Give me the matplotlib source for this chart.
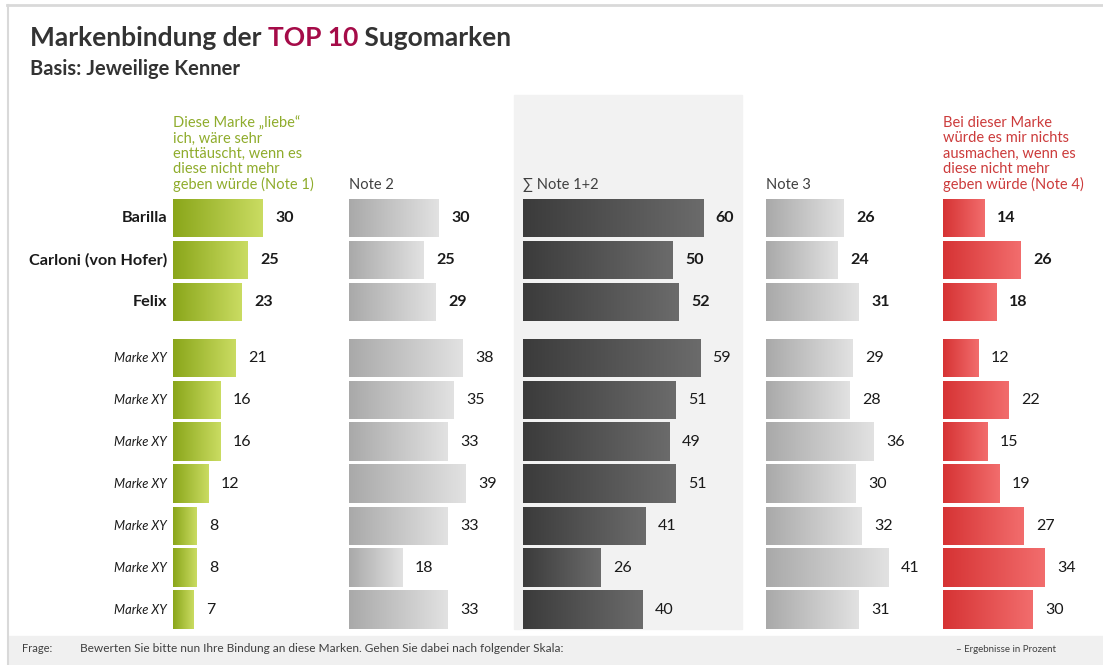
import numpy as np
import matplotlib
matplotlib.use('Agg')
import matplotlib.pyplot as plt
from matplotlib.colors import LinearSegmentedColormap
from matplotlib.patches import Rectangle

plt.rcParams['font.family'] = ['Lato', 'DejaVu Sans']

brands = ['Barilla', 'Carloni (von Hofer)', 'Felix', 'Marke XY', 'Marke XY',
          'Marke XY', 'Marke XY', 'Marke XY', 'Marke XY', 'Marke XY']
note1 = [30, 25, 23, 21, 16, 16, 12, 8, 8, 7]
note2 = [30, 25, 29, 38, 35, 33, 39, 33, 18, 33]
note12 = [60, 50, 52, 59, 51, 49, 51, 41, 26, 40]
note3 = [26, 24, 31, 29, 28, 36, 30, 32, 41, 31]
note4 = [14, 26, 18, 12, 22, 15, 19, 27, 34, 30]

headers = ['Diese Marke \u201eliebe\u201c\nich, w\u00e4re sehr\nentt\u00e4uscht, wenn es\ndiese nicht mehr\ngeben w\u00fcrde (Note 1)',
           'Note 2', '\u2211 Note 1+2', 'Note 3',
           'Bei dieser Marke\nw\u00fcrde es mir nichts\nausmachen, wenn es\ndiese nicht mehr\ngeben w\u00fcrde (Note 4)']

W, H = 1103, 665
fig = plt.figure(figsize=(W / 100, H / 100), dpi=100)
fig.patch.set_facecolor('white')

# slide border, footer band, highlight panel (pixel -> figure coords)
def px(x, y):
    return x / W, 1 - y / H

fig.add_artist(plt.Line2D([7 / W, 1], [1 - 4.5 / H] * 2, color='#d9d9d9', lw=2))
fig.add_artist(plt.Line2D([7.5 / W] * 2, [0, 1 - 4.5 / H], color='#d9d9d9', lw=1.5))
fig.add_artist(Rectangle(px(8, 665), (W - 8) / W, 29 / H, color='#f0f0f0', zorder=0))
fig.add_artist(Rectangle(px(514, 629), 228 / W, 534 / H, color='#f2f2f2', zorder=0))

title_y = 1 - 38 / H
t = fig.text(30 / W, title_y, 'Markenbindung der ', fontsize=19, fontweight='bold',
             color='#333333', va='center')
fig.canvas.draw()
bb = t.get_window_extent()
t2 = fig.text(bb.x1 / W, title_y, 'TOP 10', fontsize=19, fontweight='bold',
              color='#a50b48', va='center')
bb2 = t2.get_window_extent(fig.canvas.get_renderer())
fig.text(bb2.x1 / W, title_y, ' Sugomarken', fontsize=19, fontweight='bold',
         color='#333333', va='center')
fig.text(30 / W, 1 - 69 / H, 'Basis: Jeweilige Kenner', fontsize=14.5, fontweight='bold',
         color='#333333', va='center')

fig.text(22 / W, 1 - 649 / H, 'Frage:', fontsize=8, color='#404040', va='center')
fig.text(80 / W, 1 - 649 / H,
         'Bewerten Sie bitte nun Ihre Bindung an diese Marken. Gehen Sie dabei nach folgender Skala:',
         fontsize=8.6, color='#404040', va='center')
fig.text(1056 / W, 1 - 649 / H, '\u2013 Ergebnisse in Prozent', fontsize=7,
         color='#404040', va='center', ha='right')

# row positions: gap after the top 3 brands
gap = 14 / 42
ypos = [i + (gap if i >= 3 else 0) for i in range(len(brands))]
y_top, y_bot = 197, 631
ax_bottom = 1 - y_bot / H
ax_height = (y_bot - y_top) / H
units = 100
scale = 3  # px per percent

columns = [
    (173, note1, ['#8aa61a', '#cadc62'], '#8fac2c'),
    (349, note2, ['#a9a9a9', '#e2e2e2'], '#404040'),
    (523, note12, ['#3b3b3b', '#6b6b6b'], '#404040'),
    (766, note3, ['#a9a9a9', '#e2e2e2'], '#404040'),
    (943, note4, ['#d63334', '#f26d6d'], '#cc3b3b'),
]

grad = np.linspace(0, 1, 256).reshape(1, -1)
bh = 38 / 42

for ci, (x0, vals, cols, hcol) in enumerate(columns):
    ax = fig.add_axes([x0 / W, ax_bottom, units * scale / W, ax_height])
    ax.axis('off')
    cmap = LinearSegmentedColormap.from_list('g%d' % ci, cols)
    for i, v in enumerate(vals):
        ax.imshow(grad, cmap=cmap, aspect='auto', interpolation='bilinear',
                  extent=[0, v, ypos[i] + bh / 2, ypos[i] - bh / 2], zorder=2)
        bold = i < 3
        ax.text(v + 4, ypos[i], str(v), va='center', ha='left', fontsize=11.5,
                fontweight='bold' if bold else 'normal', color='#1a1a1a')
    ax.set_xlim(0, units)
    ax.set_ylim(ypos[-1] + 0.5, -0.5)
    ax.text(0, -0.5 - 0.12, headers[ci], ha='left', va='bottom', fontsize=10.5,
            color=hcol, linespacing=1.1)
    if ci == 0:
        for i, b in enumerate(brands):
            if i < 3:
                ax.text(-2, ypos[i], b, ha='right', va='center', fontsize=11.7,
                        fontweight='bold', color='#1a1a1a')
            else:
                ax.text(-2, ypos[i], b, ha='right', va='center', fontsize=9.3,
                        style='italic', color='#1a1a1a')

fig.savefig('out.png', dpi=100)
